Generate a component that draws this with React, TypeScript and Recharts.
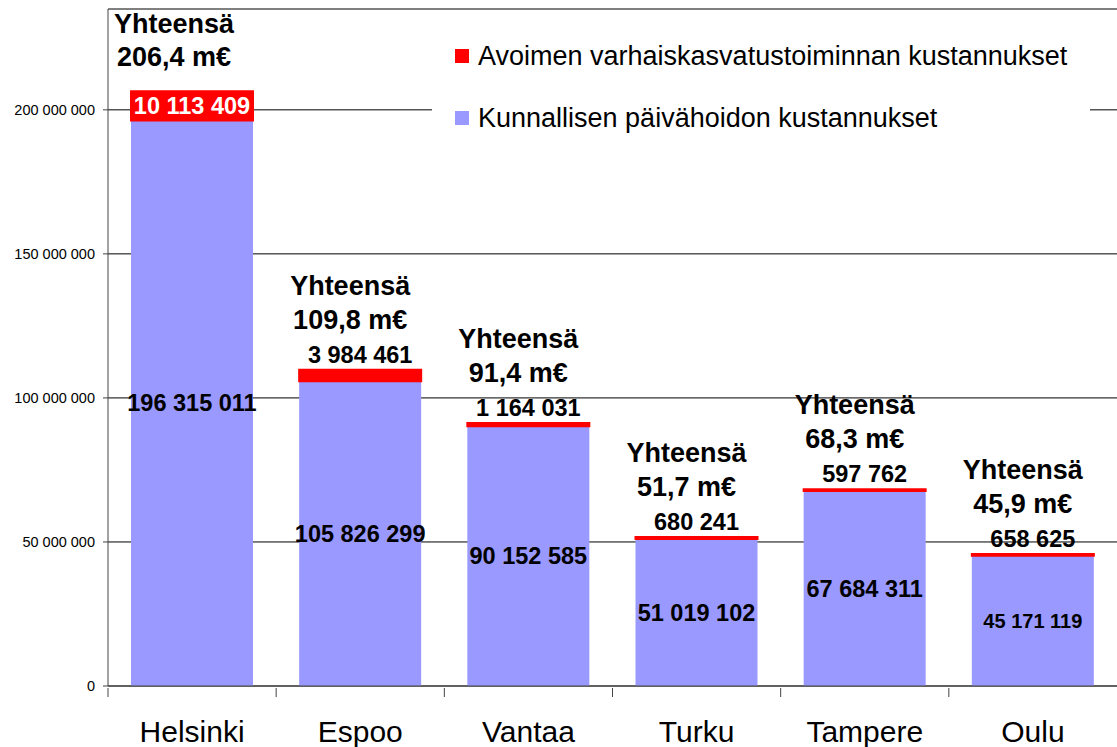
import React from 'react';
import { BarChart, Bar, XAxis, YAxis, CartesianGrid, Legend, LabelList } from 'recharts';

const FONT = '"Liberation Sans", Arial, sans-serif';

const cities = ['Helsinki', 'Espoo', 'Vantaa', 'Turku', 'Tampere', 'Oulu'];
const daycareCosts = [196315011, 105826299, 90152585, 51019102, 67684311, 45171119];
const openActivityCosts = [10113409, 3984461, 1164031, 680241, 597762, 658625];
const totalLabels = ['206,4 m€', '109,8 m€', '91,4 m€', '51,7 m€', '68,3 m€', '45,9 m€'];
const yTicks = [0, 50000000, 100000000, 150000000, 200000000];
const seriesNames = {
  open: 'Avoimen varhaiskasvatustoiminnan kustannukset',
  daycare: 'Kunnallisen päivähoidon kustannukset',
};

const RED = '#FF0000';
const BLUE = '#9999FF';

const data = cities.map((city, i) => ({
  city,
  daycare: daycareCosts[i],
  open: openActivityCosts[i],
}));

// thousands separated with spaces, like "196 315 011"
const fmt = (v: number) => String(v).replace(/\B(?=(\d{3})+(?!\d))/g, ' ');

const getBox = (props: any) => {
  const vb = props.viewBox ?? props;
  return { x: vb.x, y: vb.y, width: vb.width, height: vb.height };
};

const DaycareLabel = (props: any) => {
  const { x, y, width, height } = getBox(props);
  return (
    <text
      x={x + width / 2}
      y={y + height / 2}
      textAnchor="middle"
      dominantBaseline="central"
      fontFamily={FONT}
      fontWeight="bold"
      fontSize={props.index === 5 ? 20 : 23.5}
      fill="#000"
    >
      {fmt(props.value)}
    </text>
  );
};

// red segment value + the "Yhteensä" total above the stack
const OpenLabel = (props: any) => {
  const { x, y, width, height } = getBox(props);
  const cx = x + width / 2;
  const inside = height > 20;
  const tx = cx - (inside ? 18 : 10);
  return (
    <g fontFamily={FONT} fontWeight="bold" textAnchor="middle">
      <text
        x={cx}
        y={inside ? y + height / 2 : y - 15}
        dominantBaseline="central"
        fontSize={23.5}
        fill={inside ? '#fff' : '#000'}
      >
        {fmt(props.value)}
      </text>
      <text x={tx} y={inside ? y - 67 : y - 84} dominantBaseline="central" fontSize={27} fill="#000">
        Yhteensä
      </text>
      <text x={tx} y={inside ? y - 34 : y - 50} dominantBaseline="central" fontSize={27} fill="#000">
        {totalLabels[props.index]}
      </text>
    </g>
  );
};

const CityTick = (props: any) => {
  const { x, y, payload } = props;
  const half = payload?.offset || 84;
  return (
    <g>
      <line x1={x - half} y1={y} x2={x - half} y2={y + 9} stroke="#444" />
      <text x={x} y={y + 54} textAnchor="middle" fontSize={30} fontFamily={FONT} fill="#000">
        {payload.value}
      </text>
    </g>
  );
};

const renderLegend = () => {
  const items = [
    { name: seriesNames.open, color: RED },
    { name: seriesNames.daycare, color: BLUE },
  ];
  return (
    <div style={{ fontFamily: FONT, fontSize: 27, color: '#000', background: '#fff' }}>
      {items.map((item) => (
        <div key={item.name} style={{ display: 'flex', alignItems: 'center', height: 62, paddingLeft: 23 }}>
          <span style={{ width: 14, height: 14, background: item.color, marginRight: 9, display: 'inline-block' }} />
          <span style={{ whiteSpace: 'nowrap' }}>{item.name}</span>
        </div>
      ))}
    </div>
  );
};

export default function App() {
  return (
    <div style={{ position: 'absolute', left: 0, top: 0, background: '#fff' }}>
      <BarChart
        width={1117}
        height={747}
        data={data}
        margin={{ top: 9, right: 0, left: 8, bottom: 0 }}
        barSize={122}
      >
        <CartesianGrid vertical={false} stroke="#000" strokeWidth={1} />
        <XAxis
          dataKey="city"
          height={61}
          axisLine={{ stroke: '#444' }}
          tickLine={false}
          tickSize={0}
          tick={<CityTick />}
          interval={0}
        />
        <YAxis
          width={100}
          domain={[0, 235000000]}
          ticks={yTicks}
          allowDataOverflow
          tickFormatter={(v: number) => fmt(v)}
          tick={{ fill: '#000', fontSize: 14.5, fontFamily: FONT }}
          tickSize={5}
          tickMargin={8}
          axisLine={{ stroke: '#444' }}
          tickLine={{ stroke: '#444' }}
        />
        <Legend
          layout="horizontal"
          verticalAlign="middle"
          align="center"
          content={renderLegend}
          wrapperStyle={{ left: 432, top: 25, width: 658 }}
        />
        <Bar dataKey="daycare" stackId="a" fill={BLUE} isAnimationActive={false}>
          <LabelList dataKey="daycare" content={<DaycareLabel />} />
        </Bar>
        <Bar dataKey="open" stackId="a" fill={RED} stroke={RED} strokeWidth={2} isAnimationActive={false}>
          <LabelList dataKey="open" content={<OpenLabel />} />
        </Bar>
      </BarChart>
    </div>
  );
}
